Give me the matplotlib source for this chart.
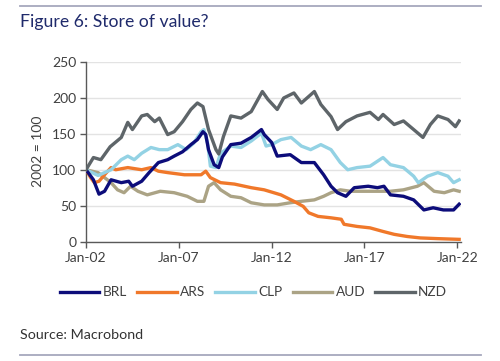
import matplotlib
matplotlib.use("Agg")
import matplotlib.pyplot as plt
from matplotlib.lines import Line2D

plt.rcParams['font.family'] = ['Lato', 'DejaVu Sans']

# ---- data (fractional years, index 2002 = 100) ----
nzd_t = [2002.0, 2002.4, 2002.8, 2003.3, 2003.9, 2004.25, 2004.5, 2005.0, 2005.3, 2005.7,
         2005.95, 2006.4, 2006.75, 2007.2, 2007.65, 2008.0, 2008.3, 2008.6, 2009.0, 2009.15,
         2009.4, 2009.8, 2010.35, 2010.9, 2011.5, 2011.8, 2012.3, 2012.65, 2013.2, 2013.6,
         2014.3, 2014.65, 2015.2, 2015.55, 2016.0, 2016.6, 2017.3, 2017.75, 2018.0, 2018.6,
         2019.1, 2019.65, 2020.15, 2020.55, 2020.95, 2021.5, 2021.9, 2022.1]
nzd_v = [100, 117, 114, 132, 145, 166, 156, 175, 177, 167,
         172, 149, 153, 167, 184, 193, 188, 156, 128, 122,
         146, 175, 172, 181, 209, 198, 184, 200, 207, 193,
         209, 191, 174, 156, 167, 175, 180, 170, 177, 163,
         168, 156, 145, 163, 175, 170, 160, 168]

brl_t = [2002.0, 2002.4, 2002.7, 2003.0, 2003.35, 2003.9, 2004.3, 2004.5, 2005.0, 2005.4,
         2005.9, 2006.4, 2006.75, 2007.2, 2007.65, 2008.0, 2008.3, 2008.45, 2008.6, 2008.9,
         2009.15, 2009.35, 2009.8, 2010.35, 2010.9, 2011.45, 2011.6, 2012.0, 2012.3, 2013.0,
         2013.6, 2014.3, 2014.8, 2015.2, 2015.55, 2016.0, 2016.45, 2017.2, 2017.7, 2018.05,
         2018.4, 2019.1, 2019.65, 2020.2, 2020.7, 2021.25, 2021.8, 2022.1]
brl_v = [100, 86, 66, 70, 86, 82, 84, 77, 84, 96,
         110, 114, 119, 125, 135, 142, 153, 149, 128, 107,
         103, 118, 135, 137, 145, 156, 149, 138, 119, 121,
         110, 110, 93, 77, 68, 63, 75, 77, 75, 77,
         65, 63, 58, 44, 47, 44, 44, 52]

clp_t = [2002.0, 2002.65, 2003.35, 2003.9, 2004.25, 2004.6, 2005.0, 2005.5, 2005.95, 2006.4,
         2006.95, 2007.4, 2007.8, 2008.2, 2008.35, 2008.55, 2008.7, 2009.0, 2009.25, 2009.8,
         2010.35, 2010.9, 2011.45, 2011.7, 2012.0, 2012.5, 2013.05, 2013.6, 2014.1, 2014.65,
         2015.2, 2015.7, 2016.1, 2016.6, 2017.3, 2018.0, 2018.4, 2019.1, 2019.65, 2019.9,
         2020.4, 2020.95, 2021.5, 2021.8, 2022.1]
clp_v = [100, 92, 100, 114, 119, 114, 123, 131, 128, 128,
         135, 128, 137, 153, 156, 137, 105, 103, 123, 133,
         131, 140, 151, 133, 135, 142, 145, 133, 128, 135,
         128, 110, 100, 103, 105, 117, 107, 103, 91, 82,
         91, 96, 91, 82, 86]

ars_t = [2002.0, 2002.25, 2002.45, 2002.7, 2003.1, 2003.35, 2003.6, 2004.25, 2005.0, 2005.5,
         2005.9, 2006.4, 2007.3, 2008.2, 2008.45, 2008.7, 2009.25, 2010.0, 2010.9, 2011.6,
         2012.5, 2013.2, 2013.7, 2014.0, 2014.5, 2015.2, 2015.75, 2015.9, 2016.6, 2017.3,
         2018.0, 2018.6, 2019.3, 2020.0, 2020.95, 2022.1]
ars_v = [100, 89, 82, 84, 96, 103, 100, 103, 100, 103,
         98, 96, 93, 93, 98, 89, 82, 80, 75, 72,
         65, 56, 49, 40, 35, 33, 31, 24, 21, 19,
         14, 10, 7, 5, 4, 3]

aud_t = [2002.0, 2002.65, 2003.0, 2003.35, 2003.7, 2004.05, 2004.4, 2004.8, 2005.3, 2006.0,
         2006.75, 2007.45, 2008.0, 2008.35, 2008.6, 2008.9, 2009.25, 2009.8, 2010.35, 2010.9,
         2011.6, 2012.3, 2013.0, 2013.6, 2014.3, 2014.8, 2015.2, 2015.7, 2016.25, 2016.95,
         2017.7, 2018.4, 2019.1, 2019.85, 2020.2, 2020.75, 2021.3, 2021.8, 2022.1]
aud_v = [100, 96, 89, 82, 72, 68, 77, 70, 65, 70,
         68, 63, 56, 56, 77, 82, 72, 63, 61, 54,
         51, 51, 54, 56, 58, 63, 68, 72, 70, 70,
         70, 70, 72, 77, 82, 70, 68, 72, 70]

xtick_years = [2002, 2007, 2012, 2017, 2022]
xtick_labels = ['Jan-02', 'Jan-07', 'Jan-12', 'Jan-17', 'Jan-22']
yticks = [0, 50, 100, 150, 200, 250]

series = [
    ('BRL', brl_t, brl_v, '#0c0c7a'),
    ('ARS', ars_t, ars_v, '#f0782a'),
    ('CLP', clp_t, clp_v, '#93d2e4'),
    ('AUD', aud_t, aud_v, '#aba385'),
    ('NZD', nzd_t, nzd_v, '#5e6569'),
]

fig = plt.figure(figsize=(5.0, 3.61), dpi=100)
ax = fig.add_axes([0.172, 0.331, 0.750, 0.497])

order = ['AUD', 'ARS', 'CLP', 'BRL', 'NZD']
lookup = {s[0]: s for s in series}
for name in order:
    n, t, v, c = lookup[name]
    ax.plot(t, v, color=c, lw=2.4, solid_joinstyle='round', zorder=3)

ax.set_xlim(2002, 2022.2)
ax.set_ylim(0, 250)
ax.set_xticks(xtick_years)
ax.set_xticklabels(xtick_labels)
ax.set_yticks(yticks)
ax.grid(axis='y', color='#e3e3e3', lw=1.0, zorder=0)
for s in ['top', 'right']:
    ax.spines[s].set_visible(False)
for s in ['left', 'bottom']:
    ax.spines[s].set_color('#595959')
    ax.spines[s].set_linewidth(1.0)
ax.tick_params(axis='both', colors='#595959', labelcolor='#404040', labelsize=10,
               length=4, width=1.0, direction='out')
ax.tick_params(axis='y', pad=3)
ax.set_ylabel('2002 = 100', fontsize=10, color='#404040', labelpad=6)

handles = [Line2D([0], [0], color=c, lw=2.4) for (_, _, _, c) in series]
labels = [s[0] for s in series]
fig.legend(handles, labels, loc='center', bbox_to_anchor=(0.507, 0.19), ncol=5,
           frameon=False, fontsize=9.8, handlelength=2.9, handletextpad=0.25,
           columnspacing=0.75, labelcolor='#404040')

fig.text(0.04, 0.938, 'Figure 6: Store of value?', fontsize=12.7, color='#1f2a6b',
         ha='left', va='center')
fig.text(0.04, 0.072, 'Source: Macrobond', fontsize=10.3, color='#333333',
         ha='left', va='center')

fig.add_artist(Line2D([0.04, 0.962], [0.983, 0.983], color='#a6a8bd', lw=1.3,
                      transform=fig.transFigure))
fig.add_artist(Line2D([0.04, 0.962], [0.017, 0.017], color='#a6a8bd', lw=1.3,
                      transform=fig.transFigure))

fig.savefig('out.png', dpi=100)
